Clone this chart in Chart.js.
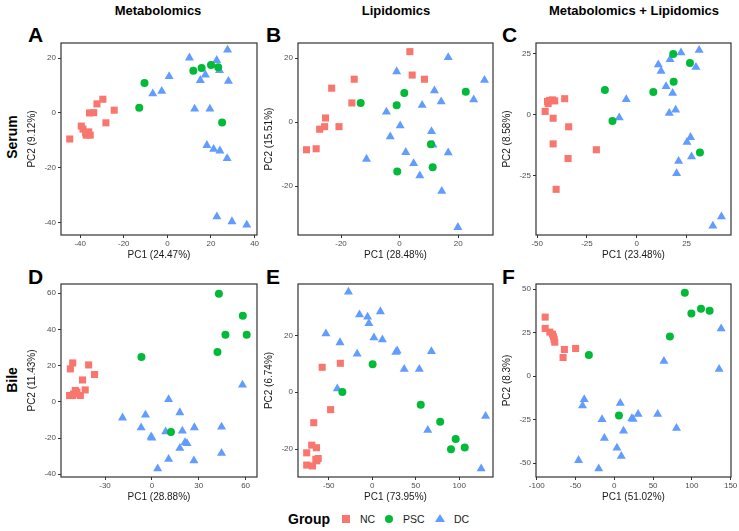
<!DOCTYPE html>
<html>
<head>
<meta charset="utf-8">
<script src="https://cdn.jsdelivr.net/npm/chart.js@4.4.1/dist/chart.umd.min.js"></script>
<style>
  body { margin: 0; background: #fff; font-family: "Liberation Sans", Arial, sans-serif; }
  #wrap { position: relative; width: 739px; height: 531px; overflow: hidden; }
  canvas { position: absolute; }
  .lbl { position: absolute; transform: translate(-50%, -50%); white-space: nowrap; color: #000; }
  .head { font-weight: bold; font-size: 13px; }
  .letter { font-weight: bold; font-size: 21px; transform: translate(0, -50%); }
  .row { font-weight: bold; font-size: 14px; transform: translate(-50%, -50%) rotate(-90deg); }
  .leg { font-size: 10.5px; color: #1a1a1a; transform: translate(0, -50%); }
  .mk { position: absolute; transform: translate(-50%, -50%); }
</style>
</head>
<body>
<div id="wrap">
  <div class="lbl head" style="left:158px;top:10px">Metabolomics</div>
  <div class="lbl head" style="left:396px;top:10px">Lipidomics</div>
  <div class="lbl head" style="left:634px;top:10px">Metabolomics + Lipidomics</div>
  <div class="lbl row" style="left:12px;top:137px">Serum</div>
  <div class="lbl row" style="left:12px;top:380px">Bile</div>
  <div class="lbl letter" style="left:28px;top:35px">A</div>
  <div class="lbl letter" style="left:266px;top:35px">B</div>
  <div class="lbl letter" style="left:502px;top:35px">C</div>
  <div class="lbl letter" style="left:28px;top:277px">D</div>
  <div class="lbl letter" style="left:266px;top:277px">E</div>
  <div class="lbl letter" style="left:502px;top:277px">F</div>

  <div class="lbl leg" style="left:288px;top:519px;font-weight:bold;font-size:14px;color:#000">Group</div>
  <div class="mk" style="left:346px;top:519px;width:8px;height:8px;background:#F8766D"></div>
  <div class="lbl leg" style="left:360px;top:519px">NC</div>
  <div class="mk" style="left:389px;top:519px;width:8px;height:8px;border-radius:50%;background:#00BA38"></div>
  <div class="lbl leg" style="left:403px;top:519px">PSC</div>
  <div class="mk" style="left:440px;top:518px;width:0;height:0;border-left:5px solid transparent;border-right:5px solid transparent;border-bottom:8px solid #619CFF"></div>
  <div class="lbl leg" style="left:454px;top:519px">DC</div>
</div>
<script>
// group colours / shapes
const groups = ['NC', 'PSC', 'DC'];
const groupColors = ['#F8766D', '#00BA38', '#619CFF'];
const groupShapes = ['rect', 'circle', 'triangle'];
const groupRadius = [5, 4, 5.2];

// A - serum, metabolomics
const serumMetNC = [[-44.8,-9.5],[-39.5,-4.8],[-38.7,-5.9],[-37.5,-7.3],[-36.1,-6.9],[-35.4,-8.1],[-37.2,-8.1],[-35.7,0],[-33.8,0.1],[-32.3,3.3],[-29.6,5.0],[-28.2,-3.6],[-24.4,1.0]];
const serumMetPSC = [[-10.5,10.9],[-12.9,1.9],[11.9,15.4],[15.7,16.4],[20.0,17.5],[23.3,16.7],[25.1,-3.5]];
const serumMetDC = [[10.1,20.1],[0.8,13.3],[-6.7,7.0],[-2.6,7.9],[22.6,19.2],[27.6,23.0],[17.4,13.9],[15.1,11.9],[23.9,15.5],[28.0,11.6],[12.5,1.5],[19.5,1.5],[18.1,-11.8],[21.2,-13.2],[24.1,-13.8],[27.4,-16.6],[22.7,-37.8],[29.6,-39.6],[36.4,-40.8]];

// B - serum, lipidomics
const serumLipNC = [[-31.8,-8.6],[-28.5,-8.3],[-27.3,-2.2],[-25.6,-1.4],[-25.3,1.3],[-20.7,-1.4],[-23.2,10.6],[-16.3,6.0],[-15.5,13.4],[3.5,22.0],[4.3,14.7],[8.5,13.4]];
const serumLipPSC = [[-13.3,6.0],[-1.0,5.3],[1.6,9.1],[22.6,9.5],[10.7,-6.9],[11.3,-14.1],[-0.8,-15.4]];
const serumLipDC = [[-1.0,15.8],[16.6,20.2],[29.0,13.1],[25.3,7.0],[11.9,9.8],[14.2,6.4],[7.7,5.3],[-4.5,3.2],[0.2,-1.1],[-3.2,-4.5],[10.9,-2.9],[11.4,-7.1],[-11.3,-11.5],[2.1,-9.4],[4.8,-12.9],[16.6,-9.5],[6.9,-16.7],[14.4,-21.5],[19.9,-32.8]];

// C - serum, combined
const serumAllNC = [[-46,1.4],[-44.8,5.5],[-44.5,4.6],[-43.7,5.9],[-42.3,6.1],[-41.2,5.7],[-36.2,6.6],[-42,-1.4],[-34.2,-4.9],[-42,-11.9],[-34.5,-17.9],[-20.3,-14.3],[-40.5,-30.5]];
const serumAllPSC = [[-16,10.2],[-12.2,-2.5],[8.3,9.3],[18.5,13.5],[18.3,24.9],[26.7,21.2],[31.7,-15.4]];
const serumAllDC = [[-5.3,6.3],[-8.8,-1.2],[10.8,20.5],[12.2,17.9],[16.7,22.7],[22.2,25.4],[31.3,26.5],[29.7,19.5],[14.7,11.6],[18,8.9],[19.5,2.0],[16.3,0.7],[27,-9.2],[25.2,-11.2],[27.5,-17.1],[21,-19],[20,-24],[42.5,-41.7],[38.2,-45.5]];

// D - bile, metabolomics
const bileMetNC = [[-50.7,21.5],[-40.5,20.4],[-52.2,18.2],[-36.7,15.1],[-44.4,12.1],[-42.7,6.6],[-49,6.3],[-52.7,3.5],[-50.7,3.5],[-48,5.4],[-45.8,3.5],[-50.1,4.4]];
const bileMetPSC = [[42.9,59.7],[58.2,47.6],[47.1,37.1],[60.7,37.1],[42,27.6],[-6.7,24.8],[12.2,-16.7]];
const bileMetDC = [[58,9.4],[-18.8,-8.8],[-4.1,-7.2],[10.7,1.3],[17.9,-5.9],[-6.9,-14.3],[-0.5,-19.3],[0,-19.9],[8.8,-16.5],[19.5,-16],[27.2,-14.2],[44.6,-13.8],[21.2,-22.4],[22.5,-23],[17.9,-25.6],[10.7,-31.6],[26.9,-32.5],[44.6,-28.3],[3.7,-36.9]];

// E - bile, lipidomics
const bileLipNC = [[-57.6,8.8],[-36.7,10.2],[-47.9,-6.1],[-67.3,-10.7],[-69.6,-18.6],[-64.2,-19.5],[-75.4,-21.3],[-75.4,-25.6],[-68.8,-25.9],[-64.9,-23.6],[-62.2,-23.3],[-63.8,-24.1]];
const bileLipPSC = [[0.4,9.9],[-34.4,0.1],[55.7,-4.4],[78.1,-10.4],[95.9,-16.4],[106.3,-19.4],[90.5,-20]];
const bileLipDC = [[-27.4,35.3],[-14.7,27.3],[-5.4,26.5],[-3.9,24.2],[9.3,28.4],[-53.3,20.6],[-37.1,17.5],[1.9,19.2],[11.6,18.5],[-17.4,13.5],[27.1,14.1],[28.6,14.6],[68,14.4],[36.7,8.1],[54.1,8.1],[-40.2,1.3],[63.8,-13.3],[130.3,-8.4],[125.2,-26.9]];

// F - bile, combined
const bileAllNC = [[-89.2,33.9],[-89.2,27.4],[-83.2,25.3],[-79.8,24.1],[-78.5,22.6],[-77.6,21.1],[-76.8,19.5],[-64.4,15.3],[-66.1,10.7],[-49.9,15.9]];
const bileAllPSC = [[90.9,47.9],[99.4,36],[111.8,38.7],[122.9,37.5],[71.7,22.8],[-32.8,12.1],[6,-22.6]];
const bileAllDC = [[137.8,27.2],[64,8.6],[135.2,4.0],[-38.8,-13.4],[-41,-16.9],[7.7,-15.5],[-15.8,-24.9],[22.6,-24.3],[24.3,-24.7],[30.7,-21.8],[55.9,-21.8],[80.2,-29.9],[11.9,-31.4],[-12.8,-35.6],[3.4,-41.2],[9,-46],[-46.1,-48.3],[-20.1,-53.1]];

// axis labels and ticks
const xTitles = ['PC1 (24.47%)', 'PC1 (28.48%)', 'PC1 (23.48%)', 'PC1 (28.88%)', 'PC1 (73.95%)', 'PC1 (51.02%)'];
const yTitles = ['PC2 (9.12%)', 'PC2 (15.51%)', 'PC2 (8.58%)', 'PC2 (11.43%)', 'PC2 (6.74%)', 'PC2 (8.3%)'];
const xTicks = [[-40,-20,0,20,40], [-20,0,20], [-50,-25,0,25], [-30,0,30,60], [-50,0,50,100], [-100,-50,0,50,100,150]];
const yTicks = [[-40,-20,0,20], [-20,0,20], [-25,0,25], [-40,-20,0,20,40,60], [-20,0,20], [-50,-25,0,25,50]];
const xRanges = [[-48.8,41.1], [-34.7,31.9], [-50.6,47.3], [-58.2,67.3], [-85.4,138.8], [-101,150.5]];
const yRanges = [[-44.5,25.5], [-35.2,24.7], [-49.2,29.4], [-41.5,65.1], [-29.8,38.1], [-57.9,52.9]];

const panelData = [
  [serumMetNC, serumMetPSC, serumMetDC],
  [serumLipNC, serumLipPSC, serumLipDC],
  [serumAllNC, serumAllPSC, serumAllDC],
  [bileMetNC, bileMetPSC, bileMetDC],
  [bileLipNC, bileLipPSC, bileLipDC],
  [bileAllNC, bileAllPSC, bileAllDC]
];

// plot boxes: left, top, right, bottom
const boxes = [
  [61, 43, 257, 235], [298, 43, 493, 235], [536, 43, 731, 235],
  [61, 284, 257, 477], [298, 284, 493, 477], [536, 284, 731, 477]
];

const frame = {
  id: 'frame',
  afterDraw(chart) {
    const a = chart.chartArea, c = chart.ctx;
    c.save();
    c.strokeStyle = '#333333';
    c.lineWidth = 1.2;
    c.strokeRect(a.left, a.top, a.right - a.left, a.bottom - a.top);
    c.restore();
  }
};

const Y_W = 35, X_H = 26, PAD = 8;
const wrap = document.getElementById('wrap');

panelData.forEach((sets, i) => {
  const [l, t, r, b] = boxes[i];
  const cv = document.createElement('canvas');
  const w = (r - l) + Y_W + PAD, h = (b - t) + PAD + X_H;
  cv.width = w; cv.height = h;
  cv.style.left = (l - Y_W) + 'px';
  cv.style.top = (t - PAD) + 'px';
  cv.style.width = w + 'px';
  cv.style.height = h + 'px';
  wrap.appendChild(cv);

  const tickFont = { family: 'Liberation Sans', size: 8 };
  const titleFont = { family: 'Liberation Sans', size: 10 };
  const grid = { display: true, drawOnChartArea: false, drawTicks: true, tickLength: 3, tickColor: '#333333', lineWidth: 1 };

  new Chart(cv.getContext('2d'), {
    type: 'scatter',
    data: {
      datasets: sets.map((pts, g) => ({
        label: groups[g],
        data: pts.map(p => ({ x: p[0], y: p[1] })),
        pointStyle: groupShapes[g],
        pointRadius: groupRadius[g],
        pointBackgroundColor: groupColors[g],
        pointBorderWidth: 0,
        backgroundColor: groupColors[g],
        borderWidth: 0
      }))
    },
    options: {
      responsive: false,
      devicePixelRatio: 1,
      animation: false,
      layout: { padding: { top: PAD, right: PAD, left: 0, bottom: 0 } },
      plugins: { legend: { display: false }, tooltip: { enabled: false } },
      scales: {
        x: {
          type: 'linear', min: xRanges[i][0], max: xRanges[i][1],
          afterBuildTicks: s => { s.ticks = xTicks[i].map(v => ({ value: v })); },
          afterFit: s => { s.height = X_H; },
          grid: grid,
          border: { display: false },
          ticks: { font: tickFont, color: '#4D4D4D', padding: 1, maxRotation: 0, autoSkip: false },
          title: { display: true, text: xTitles[i], font: titleFont, color: '#1a1a1a', padding: 0 }
        },
        y: {
          type: 'linear', min: yRanges[i][0], max: yRanges[i][1],
          afterBuildTicks: s => { s.ticks = yTicks[i].map(v => ({ value: v })); },
          afterFit: s => { s.width = Y_W; },
          grid: grid,
          border: { display: false },
          ticks: { font: tickFont, color: '#4D4D4D', padding: 2, autoSkip: false },
          title: { display: true, text: yTitles[i], font: titleFont, color: '#1a1a1a', padding: 0 }
        }
      }
    },
    plugins: [frame]
  });
});
</script>
</body>
</html>
